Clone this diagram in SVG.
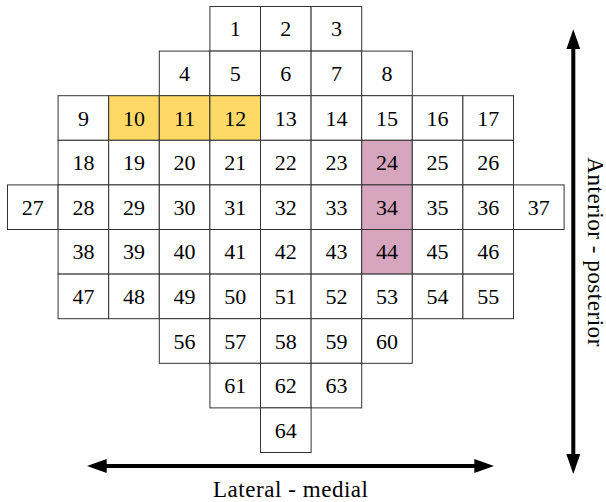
<svg xmlns="http://www.w3.org/2000/svg" width="606" height="502" viewBox="0 0 606 502">
<style>
.c{fill:#fff;stroke:#333;stroke-width:1}
.y{fill:#FFD966}
.p{fill:#D5A6BD}
text{font-family:"Liberation Serif","DejaVu Serif",serif;font-size:22px;fill:#000;text-anchor:middle}
.lb{font-size:23px}
.ax{stroke:#000;stroke-width:4;fill:none}
</style>
<defs>
<marker id="ah" viewBox="0 0 20 14" refX="1" refY="7" markerWidth="20" markerHeight="14" markerUnits="userSpaceOnUse" orient="auto-start-reverse">
<path d="M0,0 L20,7 L0,14 z" fill="#000"/>
</marker>
</defs>
<rect width="606" height="502" fill="#fff"/>
<g id="cells">
<g id="cell-1"><rect class="c" x="209.9" y="6.5" width="50.6" height="44.6"/><text x="235.2" y="36.3">1</text></g>
<g id="cell-2"><rect class="c" x="260.5" y="6.5" width="50.6" height="44.6"/><text x="285.8" y="36.3">2</text></g>
<g id="cell-3"><rect class="c" x="311.1" y="6.5" width="50.6" height="44.6"/><text x="336.4" y="36.3">3</text></g>
<g id="cell-4"><rect class="c" x="159.3" y="51.1" width="50.6" height="44.6"/><text x="184.6" y="80.9">4</text></g>
<g id="cell-5"><rect class="c" x="209.9" y="51.1" width="50.6" height="44.6"/><text x="235.2" y="80.9">5</text></g>
<g id="cell-6"><rect class="c" x="260.5" y="51.1" width="50.6" height="44.6"/><text x="285.8" y="80.9">6</text></g>
<g id="cell-7"><rect class="c" x="311.1" y="51.1" width="50.6" height="44.6"/><text x="336.4" y="80.9">7</text></g>
<g id="cell-8"><rect class="c" x="361.7" y="51.1" width="50.6" height="44.6"/><text x="387" y="80.9">8</text></g>
<g id="cell-9"><rect class="c" x="58.1" y="95.7" width="50.6" height="44.6"/><text x="83.4" y="125.5">9</text></g>
<g id="cell-10"><rect class="c y" x="108.7" y="95.7" width="50.6" height="44.6"/><text x="134" y="125.5">10</text></g>
<g id="cell-11"><rect class="c y" x="159.3" y="95.7" width="50.6" height="44.6"/><text x="184.6" y="125.5">11</text></g>
<g id="cell-12"><rect class="c y" x="209.9" y="95.7" width="50.6" height="44.6"/><text x="235.2" y="125.5">12</text></g>
<g id="cell-13"><rect class="c" x="260.5" y="95.7" width="50.6" height="44.6"/><text x="285.8" y="125.5">13</text></g>
<g id="cell-14"><rect class="c" x="311.1" y="95.7" width="50.6" height="44.6"/><text x="336.4" y="125.5">14</text></g>
<g id="cell-15"><rect class="c" x="361.7" y="95.7" width="50.6" height="44.6"/><text x="387" y="125.5">15</text></g>
<g id="cell-16"><rect class="c" x="412.3" y="95.7" width="50.6" height="44.6"/><text x="437.6" y="125.5">16</text></g>
<g id="cell-17"><rect class="c" x="462.9" y="95.7" width="50.6" height="44.6"/><text x="488.2" y="125.5">17</text></g>
<g id="cell-18"><rect class="c" x="58.1" y="140.3" width="50.6" height="44.6"/><text x="83.4" y="170.1">18</text></g>
<g id="cell-19"><rect class="c" x="108.7" y="140.3" width="50.6" height="44.6"/><text x="134" y="170.1">19</text></g>
<g id="cell-20"><rect class="c" x="159.3" y="140.3" width="50.6" height="44.6"/><text x="184.6" y="170.1">20</text></g>
<g id="cell-21"><rect class="c" x="209.9" y="140.3" width="50.6" height="44.6"/><text x="235.2" y="170.1">21</text></g>
<g id="cell-22"><rect class="c" x="260.5" y="140.3" width="50.6" height="44.6"/><text x="285.8" y="170.1">22</text></g>
<g id="cell-23"><rect class="c" x="311.1" y="140.3" width="50.6" height="44.6"/><text x="336.4" y="170.1">23</text></g>
<g id="cell-24"><rect class="c p" x="361.7" y="140.3" width="50.6" height="44.6"/><text x="387" y="170.1">24</text></g>
<g id="cell-25"><rect class="c" x="412.3" y="140.3" width="50.6" height="44.6"/><text x="437.6" y="170.1">25</text></g>
<g id="cell-26"><rect class="c" x="462.9" y="140.3" width="50.6" height="44.6"/><text x="488.2" y="170.1">26</text></g>
<g id="cell-27"><rect class="c" x="7.5" y="184.9" width="50.6" height="44.6"/><text x="32.8" y="214.7">27</text></g>
<g id="cell-28"><rect class="c" x="58.1" y="184.9" width="50.6" height="44.6"/><text x="83.4" y="214.7">28</text></g>
<g id="cell-29"><rect class="c" x="108.7" y="184.9" width="50.6" height="44.6"/><text x="134" y="214.7">29</text></g>
<g id="cell-30"><rect class="c" x="159.3" y="184.9" width="50.6" height="44.6"/><text x="184.6" y="214.7">30</text></g>
<g id="cell-31"><rect class="c" x="209.9" y="184.9" width="50.6" height="44.6"/><text x="235.2" y="214.7">31</text></g>
<g id="cell-32"><rect class="c" x="260.5" y="184.9" width="50.6" height="44.6"/><text x="285.8" y="214.7">32</text></g>
<g id="cell-33"><rect class="c" x="311.1" y="184.9" width="50.6" height="44.6"/><text x="336.4" y="214.7">33</text></g>
<g id="cell-34"><rect class="c p" x="361.7" y="184.9" width="50.6" height="44.6"/><text x="387" y="214.7">34</text></g>
<g id="cell-35"><rect class="c" x="412.3" y="184.9" width="50.6" height="44.6"/><text x="437.6" y="214.7">35</text></g>
<g id="cell-36"><rect class="c" x="462.9" y="184.9" width="50.6" height="44.6"/><text x="488.2" y="214.7">36</text></g>
<g id="cell-37"><rect class="c" x="513.5" y="184.9" width="50.6" height="44.6"/><text x="538.8" y="214.7">37</text></g>
<g id="cell-38"><rect class="c" x="58.1" y="229.5" width="50.6" height="44.6"/><text x="83.4" y="259.3">38</text></g>
<g id="cell-39"><rect class="c" x="108.7" y="229.5" width="50.6" height="44.6"/><text x="134" y="259.3">39</text></g>
<g id="cell-40"><rect class="c" x="159.3" y="229.5" width="50.6" height="44.6"/><text x="184.6" y="259.3">40</text></g>
<g id="cell-41"><rect class="c" x="209.9" y="229.5" width="50.6" height="44.6"/><text x="235.2" y="259.3">41</text></g>
<g id="cell-42"><rect class="c" x="260.5" y="229.5" width="50.6" height="44.6"/><text x="285.8" y="259.3">42</text></g>
<g id="cell-43"><rect class="c" x="311.1" y="229.5" width="50.6" height="44.6"/><text x="336.4" y="259.3">43</text></g>
<g id="cell-44"><rect class="c p" x="361.7" y="229.5" width="50.6" height="44.6"/><text x="387" y="259.3">44</text></g>
<g id="cell-45"><rect class="c" x="412.3" y="229.5" width="50.6" height="44.6"/><text x="437.6" y="259.3">45</text></g>
<g id="cell-46"><rect class="c" x="462.9" y="229.5" width="50.6" height="44.6"/><text x="488.2" y="259.3">46</text></g>
<g id="cell-47"><rect class="c" x="58.1" y="274.1" width="50.6" height="44.6"/><text x="83.4" y="303.9">47</text></g>
<g id="cell-48"><rect class="c" x="108.7" y="274.1" width="50.6" height="44.6"/><text x="134" y="303.9">48</text></g>
<g id="cell-49"><rect class="c" x="159.3" y="274.1" width="50.6" height="44.6"/><text x="184.6" y="303.9">49</text></g>
<g id="cell-50"><rect class="c" x="209.9" y="274.1" width="50.6" height="44.6"/><text x="235.2" y="303.9">50</text></g>
<g id="cell-51"><rect class="c" x="260.5" y="274.1" width="50.6" height="44.6"/><text x="285.8" y="303.9">51</text></g>
<g id="cell-52"><rect class="c" x="311.1" y="274.1" width="50.6" height="44.6"/><text x="336.4" y="303.9">52</text></g>
<g id="cell-53"><rect class="c" x="361.7" y="274.1" width="50.6" height="44.6"/><text x="387" y="303.9">53</text></g>
<g id="cell-54"><rect class="c" x="412.3" y="274.1" width="50.6" height="44.6"/><text x="437.6" y="303.9">54</text></g>
<g id="cell-55"><rect class="c" x="462.9" y="274.1" width="50.6" height="44.6"/><text x="488.2" y="303.9">55</text></g>
<g id="cell-56"><rect class="c" x="159.3" y="318.7" width="50.6" height="44.6"/><text x="184.6" y="348.5">56</text></g>
<g id="cell-57"><rect class="c" x="209.9" y="318.7" width="50.6" height="44.6"/><text x="235.2" y="348.5">57</text></g>
<g id="cell-58"><rect class="c" x="260.5" y="318.7" width="50.6" height="44.6"/><text x="285.8" y="348.5">58</text></g>
<g id="cell-59"><rect class="c" x="311.1" y="318.7" width="50.6" height="44.6"/><text x="336.4" y="348.5">59</text></g>
<g id="cell-60"><rect class="c" x="361.7" y="318.7" width="50.6" height="44.6"/><text x="387" y="348.5">60</text></g>
<g id="cell-61"><rect class="c" x="209.9" y="363.3" width="50.6" height="44.6"/><text x="235.2" y="393.1">61</text></g>
<g id="cell-62"><rect class="c" x="260.5" y="363.3" width="50.6" height="44.6"/><text x="285.8" y="393.1">62</text></g>
<g id="cell-63"><rect class="c" x="311.1" y="363.3" width="50.6" height="44.6"/><text x="336.4" y="393.1">63</text></g>
<g id="cell-64"><rect class="c" x="260.5" y="407.9" width="50.6" height="44.6"/><text x="285.8" y="437.7">64</text></g>
</g>
<g id="connectors">
<line class="ax" x1="105.7" y1="466" x2="475.3" y2="466" marker-start="url(#ah)" marker-end="url(#ah)"/>
<line class="ax" x1="573.3" y1="48.3" x2="573.3" y2="455" marker-start="url(#ah)" marker-end="url(#ah)"/>
</g>
<g id="labels">
<text class="lb" x="290.5" y="496.7" textLength="155" lengthAdjust="spacing">Lateral - medial</text>
<text class="lb" transform="translate(587.5,251.8) rotate(90)" x="0" y="0" textLength="189" lengthAdjust="spacing">Anterior - posterior</text>
</g>
</svg>
